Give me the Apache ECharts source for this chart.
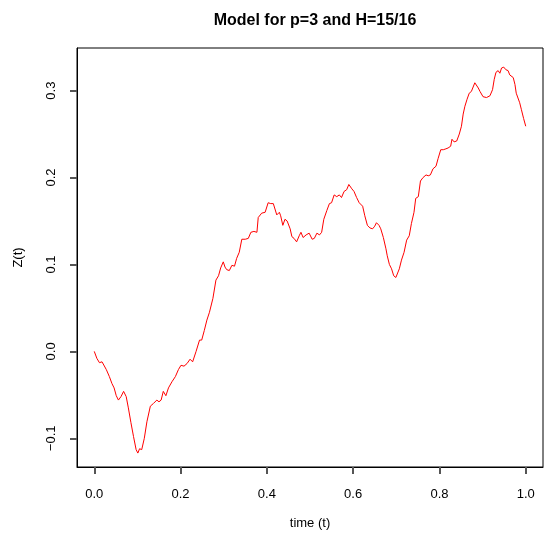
<!DOCTYPE html>
<html>
<head>
<meta charset="utf-8">
<script src="https://cdn.jsdelivr.net/npm/echarts@6/dist/echarts.min.js"></script>
<style>
  html, body { margin: 0; padding: 0; background: #fff; }
  #main { width: 547px; height: 535px; }
</style>
</head>
<body>
<div id="main"></div>
<script>
var timeT = [
  0.000, 0.006, 0.012, 0.018, 0.022, 0.028, 0.035, 0.041, 0.046, 0.051,
  0.056, 0.062, 0.068, 0.074, 0.079, 0.085, 0.091, 0.097, 0.101, 0.105,
  0.110, 0.116, 0.122, 0.130, 0.137, 0.145, 0.150, 0.155, 0.160, 0.166,
  0.172, 0.180, 0.188, 0.195, 0.201, 0.208, 0.215, 0.222, 0.228, 0.236,
  0.244, 0.249, 0.255, 0.261, 0.267, 0.275, 0.282, 0.288, 0.293, 0.299,
  0.303, 0.307, 0.313, 0.319, 0.325, 0.330, 0.336, 0.342, 0.350, 0.357,
  0.363, 0.370, 0.377, 0.380, 0.388, 0.396, 0.403, 0.409, 0.415, 0.423,
  0.429, 0.432, 0.437, 0.442, 0.447, 0.454, 0.458, 0.463, 0.469, 0.475,
  0.479, 0.484, 0.491, 0.498, 0.505, 0.510, 0.516, 0.522, 0.527, 0.532,
  0.539, 0.545, 0.550, 0.556, 0.562, 0.568, 0.573, 0.579, 0.585, 0.590,
  0.597, 0.602, 0.608, 0.614, 0.622, 0.627, 0.633, 0.639, 0.645, 0.650,
  0.654, 0.660, 0.664, 0.670, 0.676, 0.679, 0.684, 0.689, 0.694, 0.699,
  0.703, 0.707, 0.712, 0.718, 0.724, 0.730, 0.735, 0.741, 0.745, 0.751,
  0.756, 0.762, 0.769, 0.774, 0.779, 0.785, 0.792, 0.797, 0.803, 0.809,
  0.815, 0.820, 0.826, 0.829, 0.834, 0.840, 0.846, 0.851, 0.855, 0.859,
  0.864, 0.869, 0.874, 0.878, 0.882, 0.886, 0.890, 0.894, 0.901, 0.909,
  0.917, 0.923, 0.927, 0.931, 0.936, 0.940, 0.944, 0.949, 0.954, 0.959,
  0.963, 0.971, 0.975, 0.978, 0.982, 0.986, 0.990, 0.995, 1.000
];
var zValues = [
  0.000, -0.008, -0.013, -0.012, -0.014, -0.021, -0.029, -0.037, -0.042, -0.051,
  -0.056, -0.052, -0.046, -0.052, -0.065, -0.082, -0.098, -0.113, -0.117, -0.112,
  -0.113, -0.100, -0.081, -0.063, -0.060, -0.056, -0.058, -0.056, -0.046, -0.051,
  -0.042, -0.035, -0.029, -0.021, -0.016, -0.017, -0.014, -0.009, -0.012, 0.000,
  0.013, 0.013, 0.024, 0.036, 0.045, 0.061, 0.082, 0.087, 0.096, 0.103,
  0.097, 0.094, 0.093, 0.099, 0.098, 0.107, 0.114, 0.129, 0.129, 0.130,
  0.137, 0.138, 0.137, 0.154, 0.159, 0.160, 0.171, 0.170, 0.170, 0.157,
  0.160, 0.156, 0.145, 0.152, 0.150, 0.141, 0.132, 0.130, 0.126, 0.133,
  0.137, 0.131, 0.134, 0.136, 0.129, 0.130, 0.136, 0.134, 0.137, 0.152,
  0.162, 0.170, 0.171, 0.180, 0.178, 0.180, 0.177, 0.184, 0.186, 0.192,
  0.187, 0.184, 0.177, 0.171, 0.167, 0.156, 0.145, 0.142, 0.141, 0.144,
  0.148, 0.145, 0.141, 0.131, 0.118, 0.110, 0.100, 0.095, 0.087, 0.085,
  0.087, 0.095, 0.105, 0.114, 0.128, 0.133, 0.147, 0.160, 0.176, 0.178,
  0.196, 0.200, 0.203, 0.202, 0.203, 0.210, 0.213, 0.222, 0.232, 0.232,
  0.233, 0.234, 0.236, 0.244, 0.241, 0.242, 0.250, 0.259, 0.273, 0.282,
  0.290, 0.297, 0.299, 0.301, 0.309, 0.308, 0.303, 0.299, 0.293, 0.292,
  0.294, 0.301, 0.313, 0.321, 0.323, 0.320, 0.326, 0.327, 0.324, 0.323,
  0.318, 0.315, 0.307, 0.297, 0.295, 0.286, 0.278, 0.268, 0.259
];
var xTicks = [0, 0.2, 0.4, 0.6, 0.8, 1.0];
var yTicks = [-0.1, 0, 0.1, 0.2, 0.3];

var points = timeT.map(function (t, i) { return [t, zValues[i]]; });
var FONT = '"Liberation Sans", Arial, Helvetica, sans-serif';

function fmt(v) {
  var s = Math.abs(v).toFixed(1);
  return v < 0 ? '\u2212' + s : s;
}

var myChart = echarts.init(document.getElementById('main'));
var option = {
  backgroundColor: '#fff',
  animation: false,
  title: {
    text: 'Model for p=3 and H=15/16',
    left: 310,
    textAlign: 'center',
    top: 8,
    textStyle: { fontFamily: FONT, fontSize: 16, fontWeight: 'bold', color: '#000' }
  },
  grid: {
    left: 77, right: 4, top: 48, bottom: 66,
    show: true, borderColor: '#000', borderWidth: 1
  },
  xAxis: {
    type: 'value',
    min: -0.04, max: 1.04,
    name: 'time (t)',
    nameLocation: 'middle',
    nameGap: 50,
    nameTextStyle: { fontFamily: FONT, fontSize: 13, color: '#000' },
    axisLine: { onZero: false, lineStyle: { color: '#000' } },
    axisTick: { show: true, length: 7, customValues: xTicks, lineStyle: { color: '#555', width: 2 } },
    axisLabel: {
      customValues: xTicks, margin: 21, formatter: fmt,
      fontFamily: FONT, fontSize: 13, color: '#000'
    },
    splitLine: { show: false }
  },
  yAxis: {
    type: 'value',
    min: -0.133, max: 0.349,
    name: 'Z(t)',
    nameLocation: 'middle',
    nameRotate: 90,
    nameGap: 52,
    nameTextStyle: { fontFamily: FONT, fontSize: 13, color: '#000' },
    axisLine: { show: true, onZero: false, lineStyle: { color: '#000' } },
    axisTick: { show: true, length: 7, customValues: yTicks, lineStyle: { color: '#555', width: 2 } },
    axisLabel: {
      customValues: yTicks, margin: 19, rotate: 90, formatter: fmt,
      fontFamily: FONT, fontSize: 13, color: '#000'
    },
    splitLine: { show: false }
  },
  series: [{
    type: 'line',
    data: points,
    showSymbol: false,
    lineStyle: { color: '#ff0000', width: 1 },
    itemStyle: { color: '#ff0000' }
  }]
};
myChart.setOption(option);
</script>
</body>
</html>
